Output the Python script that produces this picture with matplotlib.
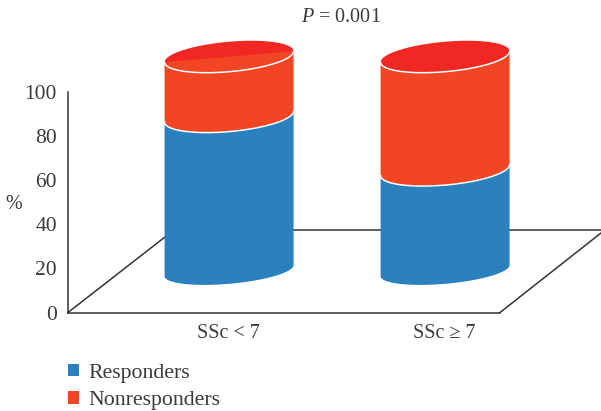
import numpy as np
import matplotlib
matplotlib.use('Agg')
import matplotlib.pyplot as plt
from matplotlib.patches import Patch

plt.rcParams['font.family'] = ['Liberation Serif', 'DejaVu Serif']
plt.rcParams['mathtext.fontset'] = 'custom'
plt.rcParams['mathtext.rm'] = 'Liberation Serif'
plt.rcParams['mathtext.it'] = 'Liberation Serif:italic'

# data
categories = ['SSc < 7', 'SSc \u2265 7']
responders = [72, 47]
nonresponders = [28, 53]
y_ticks = [0, 20, 40, 60, 80, 100]

BLUE = '#2A81BD'
ORANGE = '#F14524'
RED = '#F12724'
LINE = '#333333'
TEXT = '#3A3A3A'

# cylinder shape, in axis units
HALF_W = 0.2986
SHIFT = 0.005
TILT = 2.5
DEPTH = 6.8
LIFT = 19.0
SCALE = 0.97

W, H = 601, 411
fig = plt.figure(figsize=(W / 100, H / 100), dpi=100)
# axes box in pixels: x 68..500, y 92..312.5
ax = fig.add_axes([68 / W, 1 - 312.5 / H, 432 / W, 220.5 / H])
ax.set_xlim((68 - 228) / 216, (500 - 228) / 216)
ax.set_ylim(0, 100)
ax.patch.set_alpha(0)
ax.spines['top'].set_visible(False)
ax.spines['right'].set_visible(False)
ax.spines['left'].set_linewidth(1.1)
ax.spines['bottom'].set_linewidth(1.1)
ax.spines['left'].set_color(LINE)
ax.spines['bottom'].set_color(LINE)


def px_x(x):
    return (x - 228) / 216


def px_y(y):
    return (312.5 - y) / 2.205


def ring(center, level, start, stop, depth=DEPTH):
    t = np.linspace(start, stop, 80)
    xs = center + SHIFT + HALF_W * np.cos(t)
    ys = level + TILT * np.cos(t) + depth * np.sin(t)
    return xs, ys


def segment(center, low, high, color, low_depth=DEPTH):
    # front side of the cylinder between two levels
    x1, y1 = ring(center, low, np.pi, 2 * np.pi, low_depth)
    x2, y2 = ring(center, high, 2 * np.pi, np.pi)
    ax.fill(np.r_[x1, x2], np.r_[y1, y2], color=color, lw=0, clip_on=False, zorder=3)


# floor
ax.plot([px_x(68), px_x(174)], [px_y(312.5), px_y(230)], color=LINE, lw=1.1, clip_on=False, zorder=1)
ax.plot([px_x(174), px_x(601)], [px_y(230), px_y(230)], color=LINE, lw=1.1, clip_on=False, zorder=1)
ax.plot([px_x(500), px_x(601)], [px_y(312.5), px_y(233)], color=LINE, lw=1.1, clip_on=False, zorder=1)

for i in range(len(categories)):
    bottom = LIFT
    mid = LIFT + responders[i] * SCALE
    top = mid + nonresponders[i] * SCALE
    segment(i, bottom, mid, BLUE, DEPTH * 0.88)
    segment(i, mid, top, ORANGE)
    # top face
    xs, ys = ring(i, top, 0, 2 * np.pi)
    ax.fill(xs, ys, color=RED, lw=0, clip_on=False, zorder=4)
    if i == 0:
        xs, ys = ring(i, top, np.pi, 2 * np.pi)
        ax.fill(xs, ys, color=ORANGE, lw=0, clip_on=False, zorder=4)
    # white rims
    xs, ys = ring(i, top, np.pi, 2 * np.pi)
    ax.plot(xs, ys, color='white', lw=1.1, clip_on=False, zorder=5)
    xs, ys = ring(i, mid, np.pi, 2 * np.pi)
    ax.plot(xs, ys, color='white', lw=1.1, clip_on=False, zorder=5)

ax.set_xticks(range(len(categories)))
ax.set_xticklabels(categories, fontsize=14.5, color=TEXT)
ax.set_yticks(y_ticks)
ax.tick_params(axis='y', length=0, labelsize=15.5, labelcolor=TEXT, pad=8)
ax.tick_params(axis='x', length=0, labelsize=14.5, labelcolor=TEXT, pad=8.5)

fig.text(14 / W, 1 - 204 / H, '%', fontsize=14.5, color=TEXT, ha='center', va='center')
fig.text(341 / W, 1 - 18 / H, r'$\mathit{P}$ = 0.001', fontsize=14.5, color=TEXT, ha='center', va='center')

handles = [Patch(color=BLUE, lw=0), Patch(color=ORANGE, lw=0)]
fig.legend(handles, ['Responders', 'Nonresponders'], loc='upper left',
           bbox_to_anchor=(68 / W, 1 - 364 / H), frameon=False, fontsize=15.7,
           labelcolor=TEXT, borderpad=0, borderaxespad=0, handlelength=0.49,
           handleheight=0.49, handletextpad=0.46, labelspacing=0.38)

fig.savefig('out.png', dpi=100)
